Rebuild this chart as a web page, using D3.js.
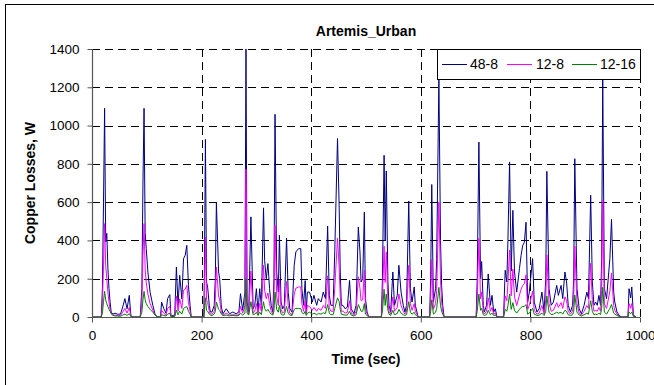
<!DOCTYPE html>
<html>
<head>
<meta charset="utf-8">
<script src="https://cdn.jsdelivr.net/npm/d3@7"></script>
<style>
  html, body { margin: 0; padding: 0; background: #fff; }
  svg { display: block; font-family: "Liberation Sans", Arial, sans-serif; }
</style>
</head>
<body>
<svg id="chart" width="654" height="385"></svg>
<script>
// Time stamps (s) of the Artemis Urban cycle samples
const seconds = [0,17,19,21,23,25,27,29,31,33,35,38,42,46,52,56,60,64,68,71,75,88,91,93,95,97,99,102,106,111,115,119,125,127,131,135,138,142,144,151,154,157,160,164,167,170,173,176,179,181,204,205,207,209,211,214,216,219,223,225,227,231,233,236,239,245,251,257,263,268,271,275,279,281,283,286,290,294,297,300,303,306,309,313,315,318,321,324,327,330,332,334,337,340,342,345,348,351,355,358,361,365,369,372,377,381,383,386,389,391,393,397,402,405,410,413,418,422,426,430,433,436,440,443,448,451,453,455,458,462,466,470,473,478,482,486,489,491,494,497,499,502,505,528,530,533,535,537,540,542,545,549,552,557,560,564,568,571,574,578,581,584,588,590,593,595,616,618,620,623,627,629,633,636,638,640,642,643,701,703,706,709,711,714,716,720,723,727,730,733,736,739,751,754,757,759,762,765,768,771,775,780,783,786,789,792,795,798,804,807,812,816,821,825,828,830,834,838,842,848,851,856,859,863,866,869,873,877,879,881,885,889,893,898,903,906,910,913,916,919,922,925,928,930,932,935,939,945,948,952,954,958,962,966,978,980,983,985,988,993];

// Copper losses (W), configuration 48-8
const losses48_8 = [0,0,150,600,1090,392,437,254,148,78,26,15,20,15,15,52,96,43,113,5,0,0,150,700,1090,440,357,235,130,61,15,0,0,78,44,20,96,117,5,10,261,60,218,95,305,322,374,165,61,0,0,200,928,183,157,61,26,26,61,200,598,235,200,52,17,43,17,26,17,26,122,35,130,1400,78,26,523,43,61,148,26,148,61,570,296,200,279,148,61,26,200,1059,235,130,427,78,43,61,412,130,43,26,270,340,357,357,148,61,190,26,130,130,78,113,61,96,78,130,96,475,113,61,61,340,932,584,235,61,61,43,52,191,43,17,61,470,340,183,200,548,96,26,0,0,200,845,400,763,183,61,26,235,61,113,270,130,61,26,61,606,148,78,157,61,26,0,0,200,692,78,150,300,1245,400,165,61,10,0,0,200,914,200,290,61,26,61,225,61,113,26,43,0,0,244,183,400,810,240,557,235,130,252,322,374,390,495,78,130,305,78,26,43,130,26,200,761,148,61,78,165,113,165,96,235,183,61,26,61,200,827,148,43,17,61,130,96,636,183,61,78,61,113,61,300,1240,148,96,305,510,130,78,26,9,0,0,148,100,157,9,0];

// Copper losses (W), configuration 12-8
const losses12_8 = [0,0,70,270,488,270,200,130,78,40,20,8,10,8,8,25,45,20,50,3,0,0,70,320,488,250,180,120,70,35,10,0,0,35,20,10,45,55,3,5,110,30,95,45,140,145,165,75,30,0,0,90,418,90,75,30,15,15,30,90,261,110,90,25,10,20,10,12,10,12,55,20,60,772,40,15,240,20,30,70,15,70,30,270,140,95,125,70,30,15,90,478,110,60,195,40,20,30,185,60,20,12,120,150,157,157,70,30,85,15,60,55,35,50,30,45,35,60,45,215,50,30,30,150,413,260,110,30,30,20,25,85,20,10,30,210,150,85,90,245,45,15,0,0,90,370,180,340,85,30,15,105,30,50,120,60,30,15,30,270,70,35,70,30,15,0,0,90,300,40,70,140,600,190,80,30,5,0,0,90,410,95,130,30,15,30,100,30,50,15,20,0,0,110,85,180,350,110,250,105,60,115,145,165,175,220,40,60,135,35,15,20,60,15,90,325,70,30,35,75,50,75,45,105,85,30,15,30,90,370,70,20,10,30,60,45,280,85,30,35,30,50,30,140,610,70,45,135,230,60,35,15,5,0,0,70,45,70,5,0];

// Copper losses (W), configuration 12-16
const losses12_16 = [0,0,20,80,134,90,70,55,40,30,17,10,5,5,4,10,15,8,18,2,0,0,25,90,134,90,70,55,40,25,10,2,0,12,8,5,15,20,2,3,35,12,30,15,45,50,55,30,15,0,0,25,100,35,30,15,10,8,15,30,78,40,35,15,8,10,6,8,6,8,20,10,20,200,20,10,80,12,15,25,8,25,12,80,45,30,40,25,15,10,30,130,40,25,60,15,10,12,55,20,10,8,40,45,44,44,25,15,30,8,20,25,15,20,12,18,15,22,18,65,20,12,12,45,100,80,40,15,12,10,10,30,10,5,12,65,45,30,30,70,15,8,0,0,30,145,60,120,35,15,8,35,12,18,40,20,12,8,12,80,25,15,25,12,8,0,0,30,90,15,25,45,155,60,30,15,3,0,0,30,120,35,45,12,8,12,35,12,20,8,10,0,0,40,30,60,120,40,75,35,20,40,50,55,55,65,15,20,45,15,8,10,20,8,30,110,25,12,15,25,20,25,15,35,30,12,8,12,30,115,25,10,5,12,20,15,85,30,12,15,12,20,12,45,155,25,15,45,65,20,15,8,3,0,0,25,18,25,3,0];

const seriesNames = ["48-8", "12-8", "12-16"];
const seriesColors = ["#000080", "#FF00FF", "#008000"];
const yTicks = [0, 200, 400, 600, 800, 1000, 1200, 1400];
const xTicks = [0, 200, 400, 600, 800, 1000];

const svg = d3.select("#chart");
const plot = { left: 92, right: 640, top: 49, bottom: 317 };

// chart area frame (runs past the right and bottom edges of the view)
svg.append("rect")
  .attr("x", 5.5).attr("y", 4.5)
  .attr("width", 700).attr("height", 420)
  .attr("fill", "#fff").attr("stroke", "#000").attr("stroke-width", 1);

const x = d3.scaleLinear().domain([0, 1000]).range([plot.left, plot.right]);
const y = d3.scaleLinear().domain([0, 1400]).range([plot.bottom, plot.top]);

// dashed grid
const grid = svg.append("g").attr("stroke", "#000").attr("stroke-width", 1)
  .attr("stroke-dasharray", "8,5").attr("fill", "none");
grid.selectAll("line.h").data(yTicks.filter(d => d > 0)).join("line")
  .attr("class", "h")
  .attr("x1", plot.left).attr("x2", plot.right)
  .attr("y1", d => Math.round(y(d)) + 0.5).attr("y2", d => Math.round(y(d)) + 0.5);
grid.selectAll("line.v").data(xTicks.filter(d => d > 0)).join("line")
  .attr("class", "v")
  .attr("y1", plot.top).attr("y2", plot.bottom)
  .attr("x1", d => Math.round(x(d)) + 0.5).attr("x2", d => Math.round(x(d)) + 0.5);

// series lines
const rows = seconds.map((t, i) => ({ t, v: [losses48_8[i], losses12_8[i], losses12_16[i]] }));
const lineGen = k => d3.line().x(d => x(d.t)).y(d => y(d.v[k]));
[0, 1, 2].forEach(k => {
  svg.append("path").datum(rows)
    .attr("d", lineGen(k))
    .attr("fill", "none")
    .attr("stroke", seriesColors[k])
    .attr("stroke-width", 1)
    .attr("stroke-linejoin", "round");
});

// axes
const yAxis = svg.append("g")
  .attr("transform", `translate(${plot.left + 0.5},0)`)
  .call(d3.axisLeft(y).tickValues(yTicks).tickSize(5).tickPadding(8).tickFormat(d3.format("d")));
const xAxis = svg.append("g")
  .attr("transform", `translate(0,${plot.bottom + 0.5})`)
  .call(d3.axisBottom(x).tickValues(xTicks).tickSize(5).tickPadding(8).tickFormat(d3.format("d")));
[yAxis, xAxis].forEach(a => {
  a.select(".domain").attr("stroke", "#555").attr("stroke-width", 1.2);
  a.selectAll(".tick line").attr("stroke", "#555");
  a.selectAll("text").attr("fill", "#000").style("font-size", "13.5px")
    .style("font-family", '"Liberation Sans", Arial, sans-serif');
});
xAxis.select(".domain").attr("d", `M${plot.left},0H${plot.right}`);
yAxis.select(".domain").attr("d", `M0,${plot.bottom}V${plot.top}`);

// titles
svg.append("text").attr("x", 366).attr("y", 36).attr("text-anchor", "middle")
  .style("font-size", "14px").style("font-weight", "bold").text("Artemis_Urban");
svg.append("text").attr("x", 366).attr("y", 364).attr("text-anchor", "middle")
  .style("font-size", "14px").style("font-weight", "bold").text("Time (sec)");
svg.append("text")
  .attr("transform", `translate(35,${(plot.top + plot.bottom) / 2}) rotate(-90)`)
  .attr("text-anchor", "middle")
  .style("font-size", "14px").style("font-weight", "bold").text("Copper Losses, W");

// legend
const lg = svg.append("g");
lg.append("rect").attr("x", 437.5).attr("y", plot.top + 0.5)
  .attr("width", 203).attr("height", 30)
  .attr("fill", "#fff").attr("stroke", "#000").attr("stroke-width", 1);
const legendItems = [
  { x1: 442, x2: 467, tx: 470 },
  { x1: 507, x2: 532, tx: 536 },
  { x1: 572, x2: 597, tx: 600 }
];
legendItems.forEach((it, k) => {
  lg.append("line").attr("x1", it.x1).attr("x2", it.x2)
    .attr("y1", plot.top + 15.5).attr("y2", plot.top + 15.5)
    .attr("stroke", seriesColors[k]).attr("stroke-width", 1);
  lg.append("text").attr("x", it.tx).attr("y", plot.top + 15.5).attr("dy", "0.35em")
    .style("font-size", "14px").text(seriesNames[k]);
});
</script>
</body>
</html>
